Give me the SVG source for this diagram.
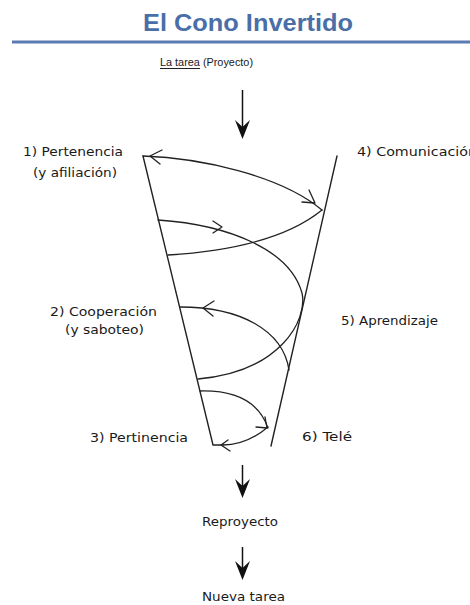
<svg xmlns="http://www.w3.org/2000/svg" width="470" height="605" viewBox="0 0 470 605">
<style>
.title{font-family:"Liberation Sans",Arial,sans-serif;font-weight:bold;font-size:23.5px;fill:#4a6fa8}
.lbl{font-family:"DejaVu Sans","Liberation Sans",sans-serif;font-size:13px;fill:#1a1a1a}
.sm{font-family:"DejaVu Sans","Liberation Sans",sans-serif;font-size:11.5px;fill:#1a1a1a}
.top{font-family:"Liberation Sans",Arial,sans-serif;font-size:11.5px;fill:#1a1a1a}
.ln{fill:none;stroke:#222;stroke-width:1.4;stroke-linecap:round;stroke-linejoin:round}
.ar{fill:none;stroke:#222;stroke-width:1.3;stroke-linecap:round;stroke-linejoin:round}
.head{fill:#111}
</style>
<defs>
<path id="dart" d="M-7.5,-19 L0,-12 L7.5,-19 L0,0 Z"/>
</defs>
<rect width="470" height="605" fill="#fff"/>
<g id="title">
<text class="title" x="248" y="31" text-anchor="middle" textLength="210" lengthAdjust="spacingAndGlyphs">El Cono Invertido</text>
<line x1="12" y1="42" x2="470" y2="42" stroke="#5b7bb3" stroke-width="3"/>
</g>
<g id="tarea">
<text class="top" x="160" y="66" textLength="93" lengthAdjust="spacingAndGlyphs">La tarea (Proyecto)</text>
<line x1="160" y1="68.5" x2="200" y2="68.5" stroke="#222" stroke-width="1"/>
</g>
<g id="label1"><text class="lbl" x="23" y="156" textLength="100" lengthAdjust="spacingAndGlyphs">1) Pertenencia</text><text class="lbl" x="33" y="177" textLength="84" lengthAdjust="spacingAndGlyphs">(y afiliación)</text></g>
<g id="label2"><text class="lbl" x="50" y="316" textLength="107" lengthAdjust="spacingAndGlyphs">2) Cooperación</text><text class="lbl" x="65" y="334" textLength="79" lengthAdjust="spacingAndGlyphs">(y saboteo)</text></g>
<g id="label3"><text class="lbl" x="90" y="442" textLength="98" lengthAdjust="spacingAndGlyphs">3) Pertinencia</text></g>
<g id="label4"><text class="lbl" x="357" y="156" textLength="120" lengthAdjust="spacingAndGlyphs">4) Comunicación</text></g>
<g id="label5"><text class="lbl" x="341" y="325" textLength="97" lengthAdjust="spacingAndGlyphs">5) Aprendizaje</text></g>
<g id="label6"><text class="lbl" x="302" y="441" textLength="50" lengthAdjust="spacingAndGlyphs">6) Telé</text></g>
<g id="reproyecto"><text class="sm" x="202" y="526" textLength="76" lengthAdjust="spacingAndGlyphs">Reproyecto</text></g>
<g id="nueva"><text class="sm" x="202" y="601" textLength="83" lengthAdjust="spacingAndGlyphs">Nueva tarea</text></g>
<g id="cone">
<path class="ln" d="M143,156 L213,445 L223,445"/>
<path class="ln" d="M337,156 L271,446"/>
</g>
<g id="connectors">
<line x1="242.5" y1="90" x2="242.5" y2="128" stroke="#111" stroke-width="1.5"/>
<use href="#dart" class="head" transform="translate(242.5,139)"/>
<line x1="242.5" y1="465" x2="242.5" y2="488" stroke="#111" stroke-width="1.5"/>
<use href="#dart" class="head" transform="translate(242.5,498)"/>
<line x1="242.5" y1="547" x2="242.5" y2="570" stroke="#111" stroke-width="1.5"/>
<use href="#dart" class="head" transform="translate(242.5,580)"/>
<path class="ar" d="M143,156 C200,158 280,175 322,210"/>
<path class="ar" d="M162,150 L150,156 L160,164"/>
<path class="ar" d="M302,202 L315,203 L309,190"/>
<path class="ar" d="M322,210 C295,232 250,250 168,255"/>
<path class="ar" d="M158,220 C230,225 290,250 302,293 C308,320 280,372 198,379"/>
<path class="ar" d="M213,221 L222,227 L213,233"/>
<path class="ar" d="M180,307 C240,307 283,330 289,370"/>
<path class="ar" d="M214,301 L203,308 L213,316"/>
<path class="ar" d="M200,391 C240,390 260,405 268,428"/>
<path class="ar" d="M256,427 L267,428 L265,417"/>
<path class="ar" d="M223,445 C240,445 255,438 268,427"/>
<path class="ar" d="M228,440 L221,445 L230,451"/>
</g>
</svg>
